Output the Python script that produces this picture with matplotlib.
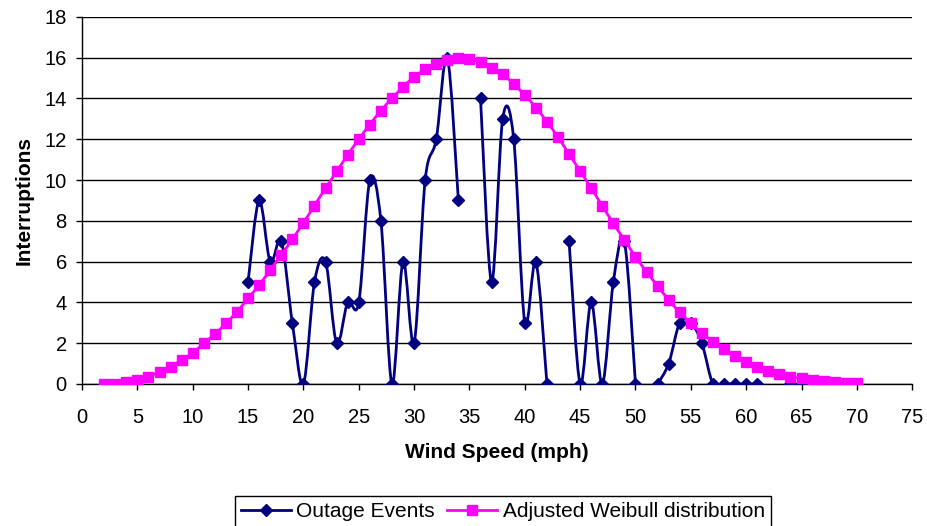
import numpy as np
import matplotlib
matplotlib.use("Agg")
import matplotlib.pyplot as plt
from matplotlib.path import Path
from matplotlib.patches import PathPatch
from matplotlib.lines import Line2D

plt.rcParams['font.family'] = ['Liberation Sans', 'DejaVu Sans']

# outage events per wind speed (None = no data, line broken)
outage_speed = list(range(15, 70))
outage_count = [5, 9, 6, 7, 3, 0, 5, 6, 2, 4, 4, 10, 8, 0, 6, 2, 10, 12, 16, 9,
                None, 14, 5, 13, 12, 3, 6, 0, None, 7, 0, 4, 0, 5, 7, 0, None,
                0, 1, 3, 3, 2, 0, 0, 0, 0, 0, None, None, 0, 0, None, None, 0, 0]

# adjusted Weibull distribution
weibull_speed = list(range(2, 71))
weibull_val = [0.0, 0.02, 0.08, 0.2, 0.36, 0.6, 0.85, 1.18, 1.53, 1.99, 2.45, 2.97,
               3.54, 4.2, 4.85, 5.59, 6.32, 7.1, 7.9, 8.75, 9.6, 10.42, 11.23, 12.0,
               12.72, 13.4, 14.0, 14.57, 15.06, 15.42, 15.7, 15.9, 15.97, 15.92, 15.8,
               15.5, 15.2, 14.7, 14.17, 13.55, 12.86, 12.1, 11.27, 10.44, 9.6, 8.73,
               7.87, 7.06, 6.24, 5.5, 4.8, 4.12, 3.51, 2.97, 2.48, 2.07, 1.7, 1.37,
               1.09, 0.85, 0.65, 0.49, 0.36, 0.28, 0.2, 0.15, 0.1, 0.06, 0.03]

navy = '#000080'
magenta = '#FF00FF'


def smooth_line(ax, xs, ys, color, lw, z):
    # Excel style smoothed line, drawn as cubic bezier pieces per unbroken run
    runs, cur = [], []
    for x, y in zip(xs, ys):
        if y is None:
            if cur:
                runs.append(cur)
            cur = []
        else:
            cur.append((x, y))
    if cur:
        runs.append(cur)
    for run in runs:
        p = np.array(run, dtype=float)
        if len(p) == 1:
            continue
        verts = [p[0]]
        codes = [Path.MOVETO]
        for i in range(len(p) - 1):
            p0 = p[i - 1] if i > 0 else p[i]
            p3 = p[i + 2] if i + 2 < len(p) else p[i + 1]
            c1 = p[i] + (p[i + 1] - p0) / 6
            c2 = p[i + 1] - (p3 - p[i]) / 6
            verts += [c1, c2, p[i + 1]]
            codes += [Path.CURVE4] * 3
        ax.add_patch(PathPatch(Path(verts, codes), fill=False, edgecolor=color,
                               lw=lw, zorder=z, capstyle='round', joinstyle='round'))


fig = plt.figure(figsize=(9.28, 5.26), dpi=100)
ax = fig.add_axes([0.0884, 0.270, 0.8946, 0.698])

# outage first, weibull drawn over it
smooth_line(ax, outage_speed, outage_count, navy, 2.0, 2)
ox = [x for x, y in zip(outage_speed, outage_count) if y is not None]
oy = [y for y in outage_count if y is not None]
ax.plot(ox, oy, ls='none', marker='D', ms=6.5, color=navy, mec=navy, zorder=3)

smooth_line(ax, weibull_speed, weibull_val, magenta, 2.0, 4)
ax.plot(weibull_speed, weibull_val, ls='none', marker='s', ms=7.5,
        color=magenta, mec=magenta, zorder=5)

ax.set_xlim(0, 75)
ax.set_ylim(0, 18)
ax.set_xticks(range(0, 76, 5))
ax.set_yticks(range(0, 19, 2))
ax.yaxis.grid(True, color='black', lw=1.0)
ax.set_axisbelow(True)
for s in ['top', 'right']:
    ax.spines[s].set_visible(False)
for s in ['left', 'bottom']:
    ax.spines[s].set_color('black')
    ax.spines[s].set_linewidth(1.0)
ax.tick_params(axis='both', direction='out', length=4, width=1, labelsize=14.5,
               colors='black')
ax.tick_params(axis='x', pad=13)
ax.tick_params(axis='y', pad=7)
ax.set_xlabel('Wind Speed (mph)', fontsize=15, fontweight='bold', labelpad=12)
ax.set_ylabel('Interruptions', fontsize=15, fontweight='bold', labelpad=8)

handles = [Line2D([], [], color=navy, lw=2, marker='D', ms=6),
           Line2D([], [], color=magenta, lw=2, marker='s', ms=7)]
fig.legend(handles, ['Outage Events', 'Adjusted Weibull distribution'],
           loc='center', bbox_to_anchor=(0.542, 0.027), ncol=2, fontsize=15,
           frameon=True, fancybox=False, edgecolor='black', framealpha=1,
           handlelength=2.4, handletextpad=0.25, columnspacing=0.6,
           borderpad=0.3)

fig.savefig('out.png', dpi=100)
